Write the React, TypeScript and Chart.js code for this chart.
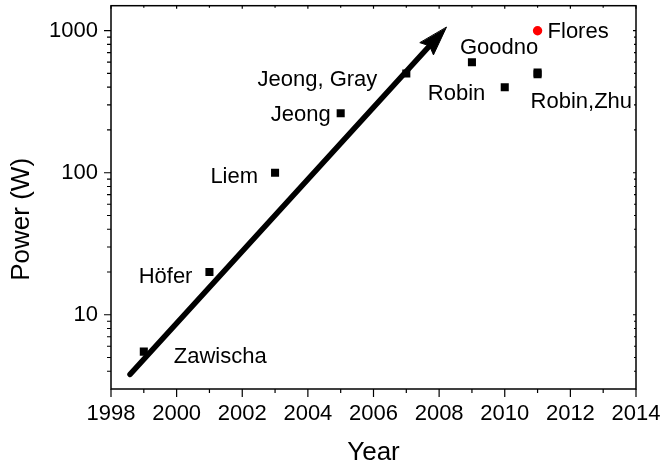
import React, { useEffect, useRef } from "react";
import { Chart, registerables } from "chart.js";

Chart.register(...registerables);

// ---- data ----
const years = [1999, 2001, 2003, 2005, 2007, 2009, 2010, 2011, 2011];
const powers = [5.5, 20, 100, 262, 500, 600, 400, 493, 507];
const authors = ["Zawischa", "Höfer", "Liem", "Jeong", "Jeong, Gray", "Goodno", "Robin", "Robin,Zhu", ""];

const floresYears = [2011];
const floresPowers = [1000];
const floresLabels = ["Flores"];

const xMajorTicks = [1998, 2000, 2002, 2004, 2006, 2008, 2010, 2012, 2014];
const xMinorTicks = [1999, 2001, 2003, 2005, 2007, 2009, 2011, 2013];
const yMajorTicks = [10, 100, 1000];
const yMinorTicks = [4, 5, 6, 7, 8, 9, 20, 30, 40, 50, 60, 70, 80, 90, 200, 300, 400, 500, 600, 700, 800, 900];

const arrowFrom = { x: 1998.58, y: 3.8 };
const arrowTo = { x: 2008.22, y: 1055 };

// ---- styles ----
const FONT = "'Liberation Sans', Arial, Helvetica, sans-serif";
const labelStyle: { dx: number; dy: number; align: CanvasTextAlign }[] = [
  { dx: 30, dy: 11, align: "left" },
  { dx: -17, dy: 11, align: "right" },
  { dx: -17, dy: 10.5, align: "right" },
  { dx: -10, dy: 8, align: "right" },
  { dx: -29, dy: 13, align: "right" },
  { dx: -12, dy: -8.5, align: "left" },
  { dx: -19.5, dy: 13, align: "right" },
  { dx: -7, dy: 34, align: "left" },
  { dx: 0, dy: 0, align: "left" },
];
const floresStyle = { dx: 10, dy: 7, align: "left" as CanvasTextAlign };

const overlayPlugin = {
  id: "overlay",
  afterDatasetsDraw(chart: any) {
    const { ctx, scales } = chart;
    const xs = scales.x;
    const ys = scales.y;
    const x1 = xs.getPixelForValue(arrowFrom.x);
    const y1 = ys.getPixelForValue(arrowFrom.y);
    const x2 = xs.getPixelForValue(arrowTo.x);
    const y2 = ys.getPixelForValue(arrowTo.y);
    const len = Math.hypot(x2 - x1, y2 - y1);
    const ux = (x2 - x1) / len;
    const uy = (y2 - y1) / len;
    const nx = -uy;
    const ny = ux;
    const L = 29;
    const W = 9;
    const notch = L * 0.86;
    ctx.save();
    ctx.strokeStyle = "#000";
    ctx.lineWidth = 5.5;
    ctx.lineCap = "round";
    ctx.beginPath();
    ctx.moveTo(x1, y1);
    ctx.lineTo(x2 - ux * notch, y2 - uy * notch);
    ctx.stroke();
    ctx.fillStyle = "#000";
    ctx.lineJoin = "round";
    ctx.lineWidth = 1;
    ctx.beginPath();
    ctx.moveTo(x2, y2);
    ctx.lineTo(x2 - ux * L + nx * W, y2 - uy * L + ny * W);
    ctx.lineTo(x2 - ux * notch, y2 - uy * notch);
    ctx.lineTo(x2 - ux * L - nx * W, y2 - uy * L - ny * W);
    ctx.closePath();
    ctx.fill();
    ctx.stroke();
    ctx.restore();
  },
  afterDraw(chart: any) {
    const { ctx, chartArea, scales } = chart;
    const xs = scales.x;
    const ys = scales.y;
    const { left, right, top, bottom } = chartArea;
    ctx.save();
    ctx.strokeStyle = "#000";
    ctx.lineWidth = 1.5;
    ctx.strokeRect(left, top, right - left, bottom - top);

    ctx.lineWidth = 1.2;
    ctx.beginPath();
    // bottom (outward) and top (inward) ticks
    xMajorTicks.forEach((v) => {
      const px = xs.getPixelForValue(v);
      ctx.moveTo(px, bottom);
      ctx.lineTo(px, bottom + 8);
      ctx.moveTo(px, top);
      ctx.lineTo(px, top + 3);
    });
    xMinorTicks.forEach((v) => {
      const px = xs.getPixelForValue(v);
      ctx.moveTo(px, bottom);
      ctx.lineTo(px, bottom + 4);
      ctx.moveTo(px, top);
      ctx.lineTo(px, top + 2);
    });
    // left (outward) and right (inward) ticks
    yMajorTicks.forEach((v) => {
      const py = ys.getPixelForValue(v);
      ctx.moveTo(left, py);
      ctx.lineTo(left - 7, py);
      ctx.moveTo(right, py);
      ctx.lineTo(right - 3, py);
    });
    yMinorTicks.forEach((v) => {
      const py = ys.getPixelForValue(v);
      ctx.moveTo(left, py);
      ctx.lineTo(left - 4, py);
      ctx.moveTo(right, py);
      ctx.lineTo(right - 2, py);
    });
    ctx.stroke();

    // point labels
    ctx.fillStyle = "#000";
    ctx.font = `22px ${FONT}`;
    ctx.textBaseline = "alphabetic";
    authors.forEach((name, i) => {
      if (!name) return;
      const s = labelStyle[i];
      ctx.textAlign = s.align;
      ctx.fillText(name, xs.getPixelForValue(years[i]) + s.dx, ys.getPixelForValue(powers[i]) + s.dy);
    });
    floresLabels.forEach((name, i) => {
      ctx.textAlign = floresStyle.align;
      ctx.fillText(
        name,
        xs.getPixelForValue(floresYears[i]) + floresStyle.dx,
        ys.getPixelForValue(floresPowers[i]) + floresStyle.dy
      );
    });

    // y-axis title
    ctx.save();
    ctx.translate(22, (top + bottom) / 2 + 22);
    ctx.rotate(-Math.PI / 2);
    ctx.font = `26px ${FONT}`;
    ctx.textAlign = "center";
    ctx.textBaseline = "middle";
    ctx.fillText("Power (W)", 0, 0);
    ctx.restore();

    ctx.restore();
  },
};

export default function App() {
  const ref = useRef<HTMLCanvasElement | null>(null);

  useEffect(() => {
    if (!ref.current) return;
    const chart = new Chart(ref.current, {
      type: "scatter",
      data: {
        datasets: [
          {
            label: "Power",
            data: years.map((x, i) => ({ x, y: powers[i] })),
            pointStyle: "rect",
            pointRadius: 5.7,
            pointHoverRadius: 5.7,
            backgroundColor: "#000",
            borderWidth: 0,
          },
          {
            label: "Flores",
            data: floresYears.map((x, i) => ({ x, y: floresPowers[i] })),
            pointStyle: "circle",
            pointRadius: 4.7,
            pointHoverRadius: 4.7,
            backgroundColor: "#ff0000",
            borderWidth: 0,
          },
        ],
      },
      options: {
        animation: false,
        responsive: false,
        events: [],
        layout: { padding: { left: 0, right: 25, top: 5, bottom: 0 } },
        plugins: {
          legend: { display: false },
          tooltip: { enabled: false },
        },
        scales: {
          x: {
            type: "linear",
            min: 1998,
            max: 2014,
            afterBuildTicks: (s: any) => {
              s.ticks = xMajorTicks.map((v) => ({ value: v }));
            },
            afterFit: (s: any) => {
              s.height = 79;
              s.paddingLeft = 0;
              s.paddingRight = 0;
            },
            ticks: {
              autoSkip: false,
              maxRotation: 0,
              padding: 12,
              color: "#000",
              font: { size: 22, family: FONT },
              callback: (v: any) => String(v),
            },
            grid: { display: false, drawTicks: false },
            border: { display: false },
            title: {
              display: true,
              text: "Year",
              color: "#000",
              font: { size: 26, family: FONT },
              padding: { top: 0, bottom: 0 },
            },
          },
          y: {
            type: "logarithmic",
            min: 3,
            max: 1500,
            afterBuildTicks: (s: any) => {
              s.ticks = yMajorTicks.map((v) => ({ value: v }));
            },
            afterFit: (s: any) => {
              s.width = 111;
              s.paddingTop = 0;
              s.paddingBottom = 0;
            },
            ticks: {
              autoSkip: false,
              padding: 13,
              color: "#000",
              font: { size: 22, family: FONT },
              callback: (v: any) => String(v),
            },
            grid: { display: false, drawTicks: false },
            border: { display: false },
          },
        },
      },
      plugins: [overlayPlugin],
    });
    return () => chart.destroy();
  }, []);

  return (
    <div style={{ position: "fixed", left: 0, top: 0, width: 661, height: 468, background: "#fff" }}>
      <canvas ref={ref} width={661} height={468} style={{ display: "block", width: 661, height: 468 }} />
    </div>
  );
}
